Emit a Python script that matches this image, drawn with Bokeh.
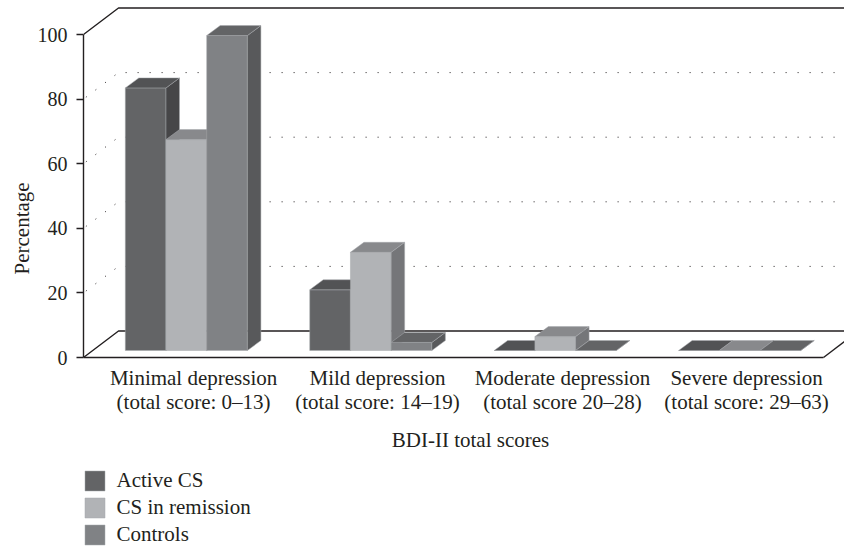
from bokeh.plotting import figure
from bokeh.models import Range1d, FixedTicker, LinearAxis, Legend, LegendItem, Title, Label
from bokeh.embed import file_html
from bokeh.resources import INLINE

categories = ["Minimal depression\n(total score: 0\u201313)", "Mild depression\n(total score: 14\u201319)",
              "Moderate depression\n(total score 20\u201328)", "Severe depression\n(total score: 29\u201363)"]
series = ["Active CS", "CS in remission", "Controls"]
active_cs = [81.3, 18.8, 0, 0]
cs_in_remission = [65.3, 30.4, 4.3, 0]
controls = [97.5, 2.5, 0, 0]
y_ticks = [0, 20, 40, 60, 80, 100]
label_positions = [0.595, 1.589, 2.589, 3.584]

values = [active_cs, cs_in_remission, controls]
front = ["#636466", "#b1b3b6", "#808285"]
top = ["#525355", "#88898c", "#636466"]
side = ["#464648", "#757679", "#58595b"]
INK = "#231f20"
FONT = "Liberation Serif"
FS = "21px"

# scales: pixels per data unit
PX_X, PX_Y = 185.0, 3.23
FRAME_W, FRAME_H, ZERO_Y = 761, 546, 357
wall_dx, wall_dy = 35 / PX_X, 26.5 / PX_Y
bar_dx, bar_dy = 13.5 / PX_X, 10 / PX_Y
bar_w = 40.7 / PX_X
bar_x0, group_step = 41.8 / PX_X, 0.997
bar_base = 7 / PX_Y

p = figure(frame_width=FRAME_W, frame_height=FRAME_H, output_backend="svg", toolbar_location=None,
           x_range=Range1d(0, FRAME_W / PX_X), y_range=Range1d(-(FRAME_H - ZERO_Y) / PX_Y, ZERO_Y / PX_Y),
           x_axis_location=None, y_axis_location=None,
           min_border_left=83, min_border_right=0, min_border_top=0, min_border_bottom=0,
           outline_line_color=None, background_fill_color=None, border_fill_color=None)
p.xgrid.visible = False
p.ygrid.visible = False

# walls
n = len(categories)
right = FRAME_W / PX_X
ymax = y_ticks[-1]
gx, gy = [], []
for t in y_ticks[1:-1]:
    gx.append([0, wall_dx, 751 / PX_X])
    gy.append([t, t + wall_dy, t + wall_dy])
p.multi_line(gx, gy, line_color=INK, line_width=1, line_dash="1 11", line_dash_offset=9)
wx = [[0, wall_dx, right], [0, wall_dx, right], [n, n + wall_dx], [0, n]]
wy = [[ymax, ymax + wall_dy, ymax + wall_dy], [0, wall_dy, wall_dy], [0, wall_dy], [0, 0]]
p.multi_line(wx, wy, line_color=INK, line_width=1.4)

# bars
legend_r = {}
for g in range(n):
    for s in range(len(series)):
        v = values[s][g]
        x0 = bar_x0 + g * group_step + s * bar_w
        x1 = x0 + bar_w
        b, h = bar_base, bar_base + v
        edge = dict(line_color="#a7a9ac", line_width=0.5)
        r = p.patches([[x0, x1, x1, x0]], [[b, b, h, h]], fill_color=front[s], **edge)
        p.patches([[x1, x1 + bar_dx, x1 + bar_dx, x1]], [[b, b + bar_dy, h + bar_dy, h]], fill_color=side[s], **edge)
        p.patches([[x0, x1, x1 + bar_dx, x0 + bar_dx]], [[h, h, h + bar_dy, h + bar_dy]], fill_color=top[s], **edge)
        if g == 0:
            legend_r[s] = r

yax = LinearAxis(ticker=FixedTicker(ticks=y_ticks), bounds=(0, ymax))
yax.axis_line_color = INK
yax.axis_line_width = 1.4
yax.major_tick_line_color = INK
yax.major_tick_line_width = 1.4
yax.major_tick_out = 7
yax.major_tick_in = 0
yax.minor_tick_line_color = None
yax.major_label_standoff = 9
yax.major_label_text_font = FONT
yax.major_label_text_font_size = "20px"
yax.major_label_text_color = INK
p.add_layout(yax, "left")

title_style = dict(text_font=FONT, text_font_style="normal", text_font_size=FS, text_color=INK)
p.add_layout(Title(text="Percentage", align="left", offset=272, standoff=1, **title_style), "left")

xax = LinearAxis(ticker=FixedTicker(ticks=label_positions), bounds=(0, n), fixed_location=0,
                 major_label_overrides=dict(zip(label_positions, categories)))
xax.axis_line_color = None
xax.major_tick_line_color = None
xax.minor_tick_line_color = None
xax.major_tick_out = 0
xax.major_tick_in = 0
xax.major_label_standoff = 8
xax.major_label_text_font = FONT
xax.major_label_text_font_size = FS
xax.major_label_text_color = INK
xax.major_label_text_line_height = 1.04
p.add_layout(xax, "below")

p.add_layout(Label(x=387 / PX_X, y=-82 / PX_Y, text="BDI-II total scores", text_align="center",
                   text_baseline="alphabetic", **title_style))

legend = Legend(items=[LegendItem(label=series[s], renderers=[legend_r[s]]) for s in range(len(series))],
                location=(-1.5, -0.5), orientation="vertical", glyph_width=25, glyph_height=25, spacing=2,
                label_standoff=10, padding=0, margin=0, border_line_color=None, background_fill_alpha=0,
                label_text_font=FONT, label_text_font_size=FS, label_text_color=INK, label_height=20)
p.add_layout(legend)

open("out.html", "w").write(file_html(p, INLINE))
